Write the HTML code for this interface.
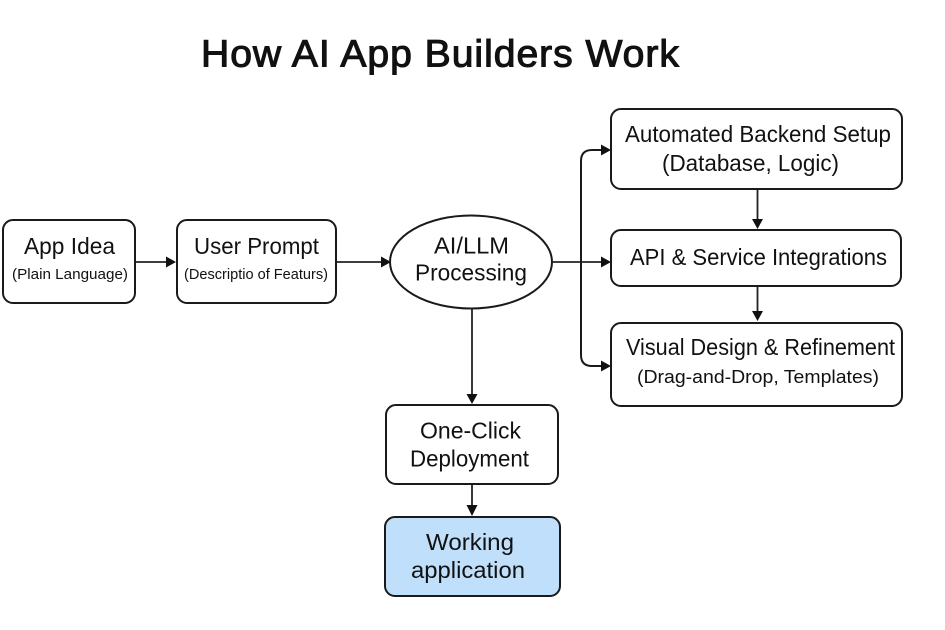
<!DOCTYPE html>
<html lang="en">
<head>
<meta charset="utf-8">
<title>How AI App Builders Work</title>
<style>
html,body{margin:0;padding:0;background:#fff;width:945px;height:630px;overflow:hidden}
svg{display:block}
text{font-family:"Liberation Sans",sans-serif;fill:#111}
.s{fill:none;stroke:#1a1a1a;stroke-width:2}
.b{fill:#fff;stroke:#1a1a1a;stroke-width:2}
.l{fill:none;stroke:#222;stroke-width:1.8}
.a{fill:#111;stroke:none}
</style>
</head>
<body>
<svg width="945" height="630" viewBox="0 0 945 630" xmlns="http://www.w3.org/2000/svg">
<rect width="945" height="630" fill="#fff"/>
<text transform="scale(1.03,1)" x="195.150" y="66.500" font-size="38" font-weight="400" stroke="#111" stroke-width="1.050" textLength="464" lengthAdjust="spacing">How AI App Builders Work</text>

<rect class="b" x="3" y="220" width="132" height="83" rx="10"/>
<rect class="b" x="177" y="220" width="159" height="83" rx="10"/>
<ellipse class="b" cx="471" cy="262" rx="81" ry="46.500"/>
<rect class="b" x="611" y="109" width="291" height="80" rx="10"/>
<rect class="b" x="611" y="230" width="290" height="56" rx="10"/>
<rect class="b" x="611" y="323" width="291" height="83" rx="10"/>
<rect class="b" x="386" y="405" width="172" height="79" rx="10"/>
<rect x="385" y="517" width="175" height="79" rx="10" fill="#bfdffb" stroke="#1a1a1a" stroke-width="2"/>

<path class="l" d="M136 262H168"/>
<path class="a" d="M166 256.500L176 262L166 267.500Z"/>
<path class="l" d="M337 262H383"/>
<path class="a" d="M381 256.500L391 262L381 267.500Z"/>
<path class="l" d="M552 262H603"/>
<path class="a" d="M601 256.500L611 262L601 267.500Z"/>
<path class="s" d="M603 150H592Q581 150 581 161V355Q581 366 592 366H603"/>
<path class="a" d="M601 144.500L611 150L601 155.500Z"/>
<path class="a" d="M601 360.500L611 366L601 371.500Z"/>
<path class="l" d="M757.500 190V221"/>
<path class="a" d="M752 219L757.500 229L763 219Z"/>
<path class="l" d="M757.500 287V313"/>
<path class="a" d="M752 311L757.500 321L763 311Z"/>
<path class="l" d="M472 309V396"/>
<path class="a" d="M466.500 394L472 404L477.500 394Z"/>
<path class="l" d="M472 485V507"/>
<path class="a" d="M466.500 505L472 516L477.500 505Z"/>

<text x="24" y="254" font-size="23" textLength="91" lengthAdjust="spacingAndGlyphs">App Idea</text>
<text x="12" y="279" font-size="14.500" textLength="116" lengthAdjust="spacingAndGlyphs">(Plain Language)</text>
<text x="194" y="254" font-size="23" textLength="125" lengthAdjust="spacingAndGlyphs">User Prompt</text>
<text x="184" y="279" font-size="14.500" textLength="144" lengthAdjust="spacingAndGlyphs">(Descriptio of Featurs)</text>
<text x="434" y="253.500" font-size="23" textLength="75" lengthAdjust="spacingAndGlyphs">AI/LLM</text>
<text x="415" y="280.500" font-size="23" textLength="112" lengthAdjust="spacingAndGlyphs">Processing</text>
<text x="625" y="142" font-size="23" textLength="266" lengthAdjust="spacingAndGlyphs">Automated Backend Setup</text>
<text x="662" y="171" font-size="23" textLength="177" lengthAdjust="spacingAndGlyphs">(Database, Logic)</text>
<text x="630" y="265" font-size="23" textLength="257" lengthAdjust="spacingAndGlyphs">API &amp; Service Integrations</text>
<text x="626" y="355" font-size="23" textLength="269" lengthAdjust="spacingAndGlyphs">Visual Design &amp; Refinement</text>
<text x="637" y="383" font-size="18.500" textLength="242" lengthAdjust="spacingAndGlyphs">(Drag-and-Drop, Templates)</text>
<text x="420" y="438.500" font-size="23" textLength="101" lengthAdjust="spacingAndGlyphs">One-Click</text>
<text x="410" y="466.500" font-size="23" textLength="119" lengthAdjust="spacingAndGlyphs">Deployment</text>
<text x="426" y="550" font-size="23" textLength="88" lengthAdjust="spacingAndGlyphs">Working</text>
<text x="411" y="578" font-size="23" textLength="114" lengthAdjust="spacingAndGlyphs">application</text>
</svg>
</body>
</html>
